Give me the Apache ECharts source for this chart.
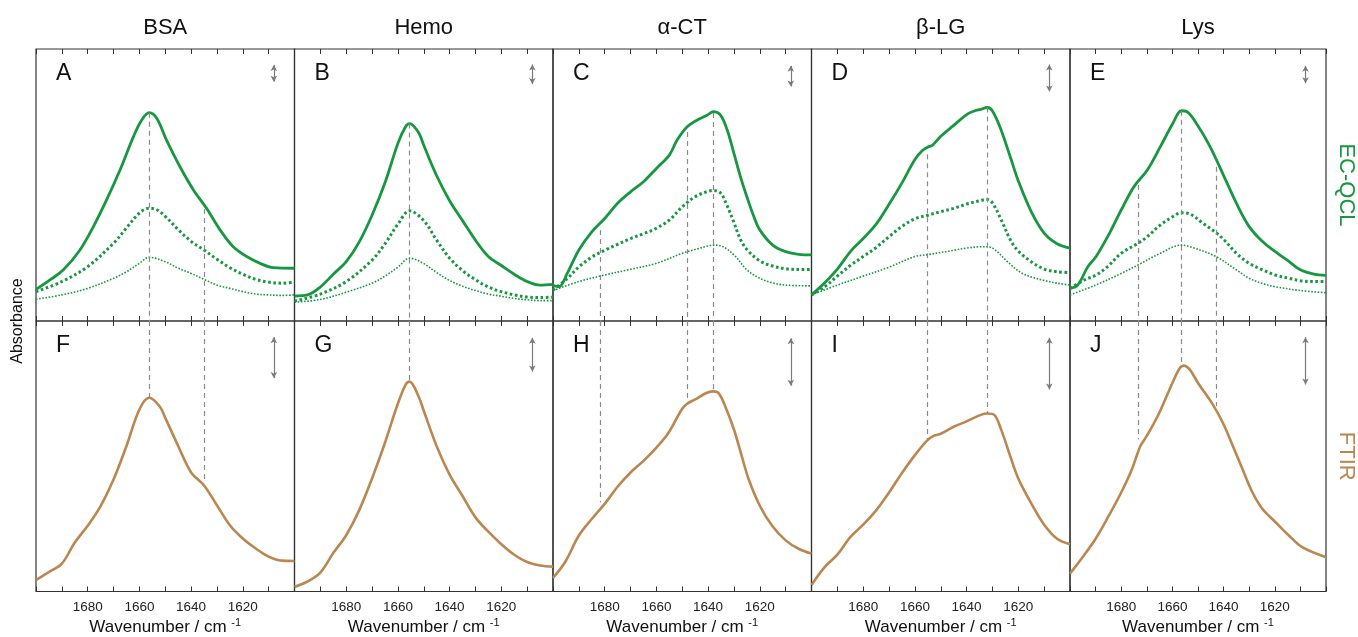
<!DOCTYPE html>
<html>
<head>
<meta charset="utf-8">
<title>EC-QCL vs FTIR amide I spectra</title>
<script src="https://cdn.jsdelivr.net/npm/echarts@6/dist/echarts.min.js"></script>
<style>
  html, body { margin: 0; padding: 0; background: #fff; }
  #chart { width: 1358px; height: 637px; }
</style>
</head>
<body>
<div id="chart"></div>
<script>
// spectra: [wavenumber, absorbance (arb. units, 0-100 per panel)]
// EC-QCL: high / mid / low concentration, FTIR: one trace
const bsaHigh = [[1700,11.6],[1694.6,15.1],[1689.4,18.8],[1683,26.1],[1677.8,34.7],[1672.7,44.5],[1667.5,55.5],[1662.3,67.8],[1659.1,73.9],[1656.2,76.6],[1653.3,74.5],[1649.5,66.5],[1644.3,56.7],[1639.1,48.2],[1634,41.4],[1628.8,33.5],[1623.7,27.3],[1618.5,23.7],[1613.3,21.2],[1608.2,19.6],[1600,19.4]];
const bsaMid = [[1700,10.8],[1690,14.5],[1680,20],[1670,28.6],[1665,34.2],[1660,39.7],[1656.2,41.5],[1653.3,40.9],[1650,38.5],[1645,33.6],[1640,29.3],[1635,26.1],[1630,22.7],[1625,19.6],[1620,17.2],[1615,15.3],[1610,14.3],[1605,13.9],[1600,14.3]];
const bsaLow = [[1700,8],[1690,9.6],[1680,12],[1670,15.7],[1665,18.1],[1660,21.2],[1656.2,23.4],[1650,21.8],[1645,19.4],[1640,17.5],[1635,15.3],[1630,13.2],[1625,12],[1620,10.8],[1615,9.9],[1610,9.6],[1605,9.4],[1600,9.6]];
const bsaFtir = [[1700,4.2],[1695,7.2],[1690,10.3],[1685,18.1],[1680,24.3],[1675,31.6],[1670,41.4],[1665,53.8],[1660,67.3],[1656.2,71.6],[1652.2,68.5],[1650,64.2],[1645,53.8],[1640,44],[1635,39.2],[1630,31.9],[1625,24.5],[1620,19.6],[1615,15.9],[1610,12.9],[1605,11.4],[1600,11.3]];

const hemoHigh = [[1700,9.2],[1695,9.6],[1690,12.5],[1685,17.2],[1680,21.8],[1675,29],[1670,38.9],[1665,50.8],[1660,65.3],[1657,71.5],[1655.5,72.6],[1652,69.3],[1650,64.6],[1645,53.4],[1640,44.2],[1635,36.9],[1630,29.7],[1625,23.7],[1620,20.4],[1615,17.2],[1610,14.5],[1605,13.2],[1600,13.5]];
const hemoMid = [[1700,7.3],[1690,9.9],[1680,14.5],[1670,22.4],[1665,28.4],[1660,35.6],[1655.5,40.5],[1650,36.9],[1645,29.7],[1640,23.1],[1635,18.5],[1630,15.2],[1625,12.5],[1620,10.8],[1615,9.6],[1610,8.8],[1605,8.6],[1600,8.8]];
const hemoLow = [[1700,6.9],[1690,7.9],[1680,10.6],[1670,13.9],[1665,16.5],[1660,19.8],[1655.5,23.1],[1650,21.1],[1645,17.8],[1640,14.9],[1635,12.8],[1630,11.2],[1625,9.9],[1620,9.1],[1615,8.3],[1610,7.8],[1605,7.5],[1600,7.5]];
const hemoFtir = [[1700,1.7],[1695,3.7],[1690,7],[1685,14.2],[1680,20.8],[1675,30],[1670,41.8],[1665,55],[1660,69.5],[1657,76.5],[1655.5,77.6],[1652,72.1],[1650,66.8],[1645,53.7],[1640,43.2],[1635,35.3],[1630,27.4],[1625,22.1],[1620,17.5],[1615,13.6],[1610,10.9],[1605,9.6],[1600,9.2]];

const actHigh = [[1700,13],[1697.7,12.6],[1694.5,17.5],[1690,26.1],[1685,32.8],[1680,37.7],[1675,43.3],[1670,47.5],[1665,51.2],[1660,56.1],[1655,61],[1652,66.5],[1648.1,71.4],[1644.2,73.9],[1640.3,75.7],[1638,77],[1635.2,75.7],[1632.6,70.2],[1630,61.6],[1627.5,53.1],[1625,45.7],[1622.3,38.4],[1620,33.5],[1615,27.9],[1610,25.5],[1605,24.5],[1600,24.3]];
const actMid = [[1700,11.4],[1694.5,15.6],[1690,19.9],[1685,23.5],[1680,26],[1675,28.2],[1670,30.3],[1665,32.1],[1660,34.1],[1655,37.1],[1650,42],[1645,45.7],[1640,47.7],[1638,48],[1635.2,47.1],[1632.6,42.3],[1630,36.2],[1627.5,30],[1625,26.3],[1620,22.1],[1615,20.2],[1610,19.2],[1605,18.9],[1600,18.9]];
const actLow = [[1700,11.2],[1690,14.5],[1680,16.9],[1670,19],[1660,21.2],[1650,24.9],[1645,26.3],[1640,27.6],[1638,27.9],[1635,27.6],[1630,24.3],[1625,18.8],[1620,15.7],[1615,14],[1610,13.2],[1600,12.9]];
const actFtir = [[1700,5],[1695.3,10.9],[1690,20.7],[1685,26.8],[1680,32.4],[1674.7,39.1],[1670,44],[1665,48.3],[1660,53.2],[1655.3,58.7],[1650.2,67.3],[1648.1,69.4],[1645,71],[1641.1,73.2],[1638.2,74],[1636,73.4],[1633.4,68.5],[1630,59.9],[1627,50.1],[1624.3,41.5],[1620,31.7],[1615.3,24.4],[1610,18.9],[1605,15.8],[1600,14]];

const blgHigh = [[1700,9.6],[1695.1,13.9],[1690,19.1],[1684.8,25.7],[1680,30.3],[1675,35.6],[1670,42.9],[1665,50.8],[1660,59.4],[1657.1,62.7],[1655,64],[1653.2,64.6],[1650,67.9],[1645,71.9],[1640,75.9],[1637,77.2],[1634.5,77.8],[1632,78.5],[1630,77.2],[1626.8,70.6],[1623,60],[1620,51.5],[1615,40.2],[1610,32.3],[1605,28.4],[1600,26.8]];
const blgMid = [[1700,9.6],[1695,12.5],[1690,16.5],[1685,20.4],[1680,23.7],[1675,27],[1670,31],[1665,34.8],[1660,37.6],[1655,38.9],[1650,40.2],[1645,41.4],[1640,43],[1634.5,44.3],[1632,44.7],[1630,43.4],[1626.8,37.6],[1623,29.7],[1620,25.7],[1615,21.8],[1610,19.1],[1605,18.1],[1600,17.8]];
const blgLow = [[1700,9.6],[1690,13.2],[1680,16.5],[1670,19.8],[1660,23.7],[1655,24.4],[1645,26],[1640,26.8],[1634.5,27.3],[1632,27.3],[1629.3,26.4],[1624.2,21.8],[1619,17.8],[1615,16.2],[1610,14.9],[1605,13.9],[1600,13.2]];
const blgFtir = [[1700,2.4],[1695,8.9],[1690,13.6],[1685,20.1],[1680,24.7],[1675,30],[1670,36.6],[1665,43.8],[1660,50.4],[1655.4,55.7],[1652.6,57.6],[1650,58.3],[1645,60.9],[1640,62.9],[1634.5,65.3],[1632,65.8],[1629.3,65.3],[1626.8,60.3],[1623,49.7],[1620,41.8],[1615,32.6],[1610,24.7],[1605,19.5],[1600,17.5]];

const lysHigh = [[1700,12],[1697,13.2],[1693,20],[1689.8,23.7],[1685.3,31],[1680,40.8],[1675,49.4],[1669.8,55.5],[1664.7,64.1],[1659.8,72.7],[1656.5,77.3],[1654.4,77],[1649.8,71.4],[1645.3,64.1],[1639.8,53.1],[1635,43.3],[1630,34.7],[1624.8,29.2],[1619.8,25.5],[1614.4,21.8],[1610,18.8],[1604.7,17.2],[1600,16.8]];
const lysMid = [[1700,12],[1694.3,15.1],[1689.8,16.9],[1685.3,20],[1680,24.9],[1673.4,28.6],[1669.8,31],[1664.7,35.3],[1659.8,38.4],[1656.5,39.8],[1653,39.3],[1648,35.9],[1643,32.5],[1639.8,29.8],[1635,24.9],[1630,21.2],[1624.8,18.8],[1619.8,16.9],[1614.4,15.7],[1610,14.8],[1604.7,14.5],[1600,14.5]];
const lysLow = [[1700,9.6],[1690,13.2],[1680,17.5],[1673.4,20.6],[1664.7,24.9],[1656.5,27.9],[1653,27.3],[1643,23.7],[1635,18.8],[1630,15.7],[1624.8,13.8],[1619.8,12.6],[1610,11.2],[1600,10.4]];
const lysFtir = [[1700,6.6],[1694.5,13.4],[1690,19.5],[1684.8,28.1],[1680,36.6],[1675.8,45.2],[1672.5,53.8],[1670,57.5],[1665.1,66.1],[1660,77.1],[1657.1,82.6],[1655.5,83.5],[1653.2,82],[1650,77.1],[1644.2,69.1],[1640.3,62.4],[1636.4,53.8],[1632.6,45.2],[1628.7,36.6],[1624.8,30.5],[1619.7,25.6],[1614.5,20.7],[1609.3,16.4],[1600,12.7]];

// dashed guide lines: [wavenumber, start on EC-QCL trace, end on FTIR trace]
const bsaGuides = [[1656.2, 76.6, 71.6], [1635, 41.2, 40]];
const hemoGuides = [[1655.5, 72.6, 77.6]];
const actGuides = [[1681.6, 33.5, 33], [1648.1, 69.5, 69.4], [1638.1, 76.5, 74]];
const blgGuides = [[1655.4, 61.3, 56.3], [1632, 78.5, 65.8]];
const lysGuides = [[1673.3, 50, 56.3], [1656.4, 77.3, 83.5], [1643, 56.7, 68.5]];

// scale-bar arrows (top / bottom row), [from, to] in absorbance units
const arrowWn = 1608;
const arrowTop = [[94.1, 88], [94.3, 87.1], [93.8, 86.2], [94.3, 84.4], [93.8, 87.4]];
const arrowBottom = [[94, 78.9], [93.8, 81.3], [93.6, 76.1], [93.8, 74.7], [94, 76.5]];

const titles = ['BSA', 'Hemo', 'α-CT', 'β-LG', 'Lys'];
const lettersTop = ['A', 'B', 'C', 'D', 'E'];
const lettersBottom = ['F', 'G', 'H', 'I', 'J'];

const columns = [
  { high: bsaHigh, mid: bsaMid, low: bsaLow, ftir: bsaFtir, guides: bsaGuides },
  { high: hemoHigh, mid: hemoMid, low: hemoLow, ftir: hemoFtir, guides: hemoGuides },
  { high: actHigh, mid: actMid, low: actLow, ftir: actFtir, guides: actGuides },
  { high: blgHigh, mid: blgMid, low: blgLow, ftir: blgFtir, guides: blgGuides },
  { high: lysHigh, mid: lysMid, low: lysLow, ftir: lysFtir, guides: lysGuides }
];

const GREEN = '#17973f';
const BROWN = '#b9874f';
const FONT = "'Liberation Sans', Arial, sans-serif";
const L = 36, CW = 258.5, T = 49, RH = 272;

var chart = echarts.init(document.getElementById('chart'));

var grid = [], xAxis = [], yAxis = [], series = [], title = [];

for (let r = 0; r < 2; r++) {
  for (let c = 0; c < 5; c++) {
    const g = r * 5 + c;
    const col = columns[c];
    grid.push({
      left: L + c * CW, top: T + r * RH, width: CW, height: RH,
      show: true, borderColor: '#333', borderWidth: 1.2
    });
    const baseX = {
      type: 'value', gridIndex: g, min: 1600, max: 1700, interval: 10, inverse: true,
      axisLine: { show: false, onZero: false },
      axisTick: { inside: true, length: 5, lineStyle: { color: '#333', width: 1 } },
      splitLine: { show: false }
    };
    // bottom axis
    xAxis.push(Object.assign({}, baseX, {
      position: 'bottom',
      axisLabel: {
        show: r === 1, fontSize: 13.5, fontFamily: FONT, color: '#222', margin: 9,
        formatter: v => (v % 20 === 0 && v !== 1700 && v !== 1600) ? String(v) : ''
      },
      name: r === 1 ? '{a|Wavenumber / cm }{s|-1}' : '',
      nameLocation: 'middle', nameGap: 26,
      nameTextStyle: {
        fontFamily: FONT, color: '#111',
        rich: {
          a: { fontSize: 17, fontFamily: FONT, color: '#111', lineHeight: 20 },
          s: { fontSize: 11, fontFamily: FONT, color: '#111', verticalAlign: 'top', lineHeight: 12 }
        }
      }
    }));
    // top axis
    xAxis.push(Object.assign({}, baseX, {
      position: 'top',
      axisLabel: { show: false },
      name: r === 0 ? titles[c] : '',
      nameLocation: 'middle', nameGap: 10,
      nameTextStyle: { fontSize: 22, fontFamily: FONT, color: '#111' }
    }));
    yAxis.push({
      type: 'value', gridIndex: g, min: 0, max: 100,
      position: c === 4 ? 'right' : 'left',
      axisLine: { show: false }, axisTick: { show: false },
      axisLabel: { show: false }, splitLine: { show: false },
      name: c === 4 ? (r === 0 ? 'EC-QCL' : 'FTIR') : '',
      nameLocation: 'middle', nameRotate: -90, nameGap: 9,
      nameTextStyle: { fontSize: 22, fontFamily: FONT, color: r === 0 ? GREEN : BROWN }
    });
    title.push({
      text: r === 0 ? lettersTop[c] : lettersBottom[c],
      left: L + c * CW + 20, top: T + r * RH + 13, padding: 0,
      textStyle: { fontSize: 23, fontWeight: 'normal', fontFamily: FONT, color: '#111' }
    });

    const ax = { xAxisIndex: 2 * g, yAxisIndex: g, symbol: 'none', silent: true, smooth: 0.35 };
    const guideLines = col.guides.map(d => r === 0
      ? [{ coord: [d[0], d[1]] }, { coord: [d[0], 0] }]
      : [{ coord: [d[0], 100] }, { coord: [d[0], d[2]] }]);
    const arr = r === 0 ? arrowTop[c] : arrowBottom[c];

    if (r === 0) {
      series.push(Object.assign({ type: 'line', data: col.high, lineStyle: { color: GREEN, width: 2.8 }, z: 4 }, ax));
      series.push(Object.assign({ type: 'line', data: col.mid, lineStyle: { color: GREEN, width: 3, type: [2.6, 2.6] }, z: 3 }, ax));
      series.push(Object.assign({ type: 'line', data: col.low, lineStyle: { color: GREEN, width: 1.6, type: [1.6, 1.6] }, z: 3 }, ax));
    } else {
      series.push(Object.assign({ type: 'line', data: col.ftir, lineStyle: { color: BROWN, width: 2.6 }, z: 4 }, ax));
    }
    // guides
    series.push(Object.assign({}, ax, {
      type: 'line', data: [], z: 2,
      markLine: {
        silent: true, symbol: 'none', label: { show: false },
        lineStyle: { color: '#8a8a8a', width: 1.2, type: [5, 4] },
        data: guideLines
      }
    }));
    // scale-bar arrow
    series.push(Object.assign({}, ax, {
      type: 'line', data: [], z: 2,
      markLine: {
        silent: true, symbol: ['arrow', 'arrow'], symbolSize: [5, 6], label: { show: false },
        lineStyle: { color: '#7a7a7a', width: 1.2, type: 'solid' },
        data: [[{ coord: [arrowWn, arr[0]] }, { coord: [arrowWn, arr[1]] }]]
      }
    }));
  }
}

var option = {
  animation: false,
  backgroundColor: '#fff',
  title: title,
  grid: grid,
  xAxis: xAxis,
  yAxis: yAxis,
  series: series,
  graphic: [{
    type: 'text', x: 18, y: 321, rotation: Math.PI / 2,
    style: {
      text: 'Absorbance', font: '16px ' + FONT, fill: '#111',
      textAlign: 'center', textVerticalAlign: 'middle', align: 'center', verticalAlign: 'middle'
    }
  }]
};

option && chart.setOption(option);
</script>
</body>
</html>
